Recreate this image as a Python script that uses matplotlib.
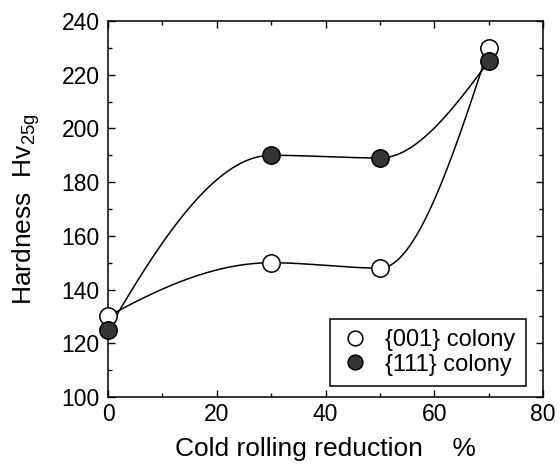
import numpy as np
import matplotlib
matplotlib.use("Agg")
import matplotlib.pyplot as plt
from matplotlib.ticker import MultipleLocator

plt.rcParams["font.family"] = ["Liberation Sans", "DejaVu Sans"]

# Hardness vs. cold rolling reduction for two colony orientations
reduction = [0, 30, 50, 70]
hv_001 = [130, 150, 148, 230]
hv_111 = [125, 190, 189, 225]
labels = ["{001} colony", "{111} colony"]


def pchip_curve(x, y, n=300):
    """Shape-preserving cubic (PCHIP) curve through the points."""
    x = np.asarray(x, float)
    y = np.asarray(y, float)
    h = np.diff(x)
    d = np.diff(y) / h
    k = len(x)
    m = np.zeros(k)
    for i in range(1, k - 1):
        if d[i - 1] * d[i] > 0:
            w1 = 2 * h[i] + h[i - 1]
            w2 = h[i] + 2 * h[i - 1]
            m[i] = (w1 + w2) / (w1 / d[i - 1] + w2 / d[i])

    def end_slope(h0, h1, d0, d1):
        s = ((2 * h0 + h1) * d0 - h0 * d1) / (h0 + h1)
        if np.sign(s) != np.sign(d0):
            s = 0.0
        elif np.sign(d0) != np.sign(d1) and abs(s) > abs(3 * d0):
            s = 3 * d0
        return s

    m[0] = end_slope(h[0], h[1], d[0], d[1])
    m[-1] = end_slope(h[-1], h[-2], d[-1], d[-2])

    xs = np.linspace(x[0], x[-1], n)
    idx = np.clip(np.searchsorted(x, xs) - 1, 0, k - 2)
    t = (xs - x[idx]) / h[idx]
    h00 = 2 * t**3 - 3 * t**2 + 1
    h10 = t**3 - 2 * t**2 + t
    h01 = -2 * t**3 + 3 * t**2
    h11 = t**3 - t**2
    ys = (h00 * y[idx] + h10 * h[idx] * m[idx]
          + h01 * y[idx + 1] + h11 * h[idx] * m[idx + 1])
    return xs, ys


fig = plt.figure(figsize=(5.6, 4.66), dpi=100)
ax = fig.add_axes([0.193, 0.148, 0.777, 0.807])

for yv in (hv_001, hv_111):
    xs, ys = pchip_curve(reduction, yv)
    ax.plot(xs, ys, color="black", lw=1.1, zorder=2)

ax.plot(reduction, hv_001, "o", ms=12.5, mfc="white", mec="black", mew=1.1,
        ls="none", label=labels[0], zorder=3, clip_on=False)
ax.plot(reduction, hv_111, "o", ms=12.5, mfc="#353535", mec="black", mew=1.1,
        ls="none", label=labels[1], zorder=3, clip_on=False)

ax.set_xlim(0, 80)
ax.set_ylim(100, 240)
ax.xaxis.set_major_locator(MultipleLocator(20))
ax.xaxis.set_minor_locator(MultipleLocator(10))
ax.yaxis.set_major_locator(MultipleLocator(20))
ax.yaxis.set_minor_locator(MultipleLocator(10))
ax.tick_params(which="both", direction="in", top=True, right=True,
               labelsize=16.5, width=1.0)
ax.tick_params(which="major", length=5)
ax.tick_params(which="minor", length=3)
ax.tick_params(axis="y", pad=6)
ax.tick_params(axis="x", pad=4)
for s in ax.spines.values():
    s.set_linewidth(1.1)

ax.set_xlabel("Cold rolling reduction    %", fontsize=19, labelpad=8)
ax.set_ylabel("Hardness  Hv$_{\\mathregular{25g}}$", fontsize=19, labelpad=14)

leg = ax.legend(loc="lower right", bbox_to_anchor=(0.961, 0.029),
                borderaxespad=0, fontsize=17, frameon=True, fancybox=False,
                edgecolor="black", framealpha=1, markerscale=0.85,
                handletextpad=0.68, borderpad=0.45, handlelength=1.2,
                labelspacing=0.1)
leg.get_frame().set_linewidth(1.1)

fig.savefig("out.png", dpi=100)
